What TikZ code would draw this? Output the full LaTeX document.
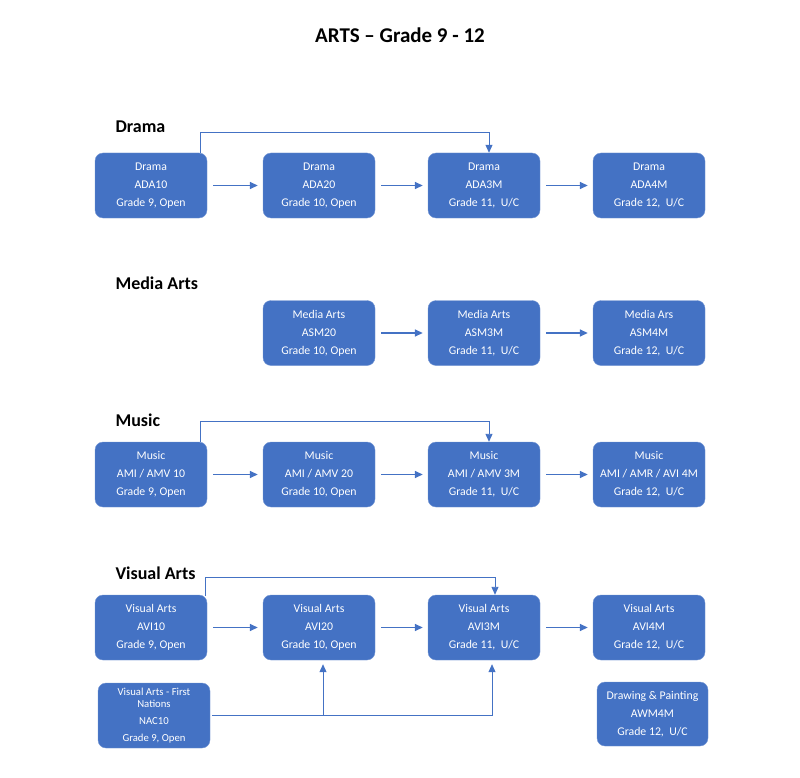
\documentclass[tikz,border=0pt]{standalone}
\usepackage{fontspec}
\setmainfont{Carlito}
\usetikzlibrary{arrows.meta}
\definecolor{boxblue}{HTML}{4472C4}
\definecolor{lineblue}{HTML}{4472C4}

\begin{document}
\begin{tikzpicture}[x=1pt,y=-1pt,
    course/.style={draw=boxblue!75!white, fill=boxblue, rounded corners=8pt,
        minimum width=112pt, minimum height=65pt, inner sep=0pt,
        text=white, align=center, font=\fontsize{11.8}{18}\selectfont},
    next/.style={draw=lineblue, line width=1.5pt, -{Triangle[length=8pt,width=7pt]}},
    link/.style={draw=lineblue, line width=0.9pt, -{Triangle[length=8pt,width=7pt]}},
    heading/.style={anchor=west, font=\fontsize{18}{21}\selectfont\bfseries}]
    % Page frame
    \useasboundingbox (0,0) rectangle (800,778);

    % Title
    \node[font=\fontsize{21}{25}\selectfont\bfseries] (title) at (400,35) {ARTS -- Grade 9 - 12};

    % Drama row
    \node[heading] (hdrama) at (112,127) {Drama};
    \node[course] (d1) at (151,185.5) {Drama\\ADA10\\Grade 9, Open};
    \node[course] (d2) at (319,185.5) {Drama\\ADA20\\Grade 10, Open};
    \node[course] (d3) at (484,185.5) {Drama\\ADA3M\\Grade 11,\ \ U/C};
    \node[course] (d4) at (649,185.5) {Drama\\ADA4M\\Grade 12,\ \ U/C};
    \draw[next] ([xshift=6pt]d1.east) -- ([xshift=-5pt]d2.west);
    \draw[next] ([xshift=6pt]d2.east) -- ([xshift=-5pt]d3.west);
    \draw[next] ([xshift=6pt]d3.east) -- ([xshift=-5pt]d4.west);
    \draw[link] ([xshift=-7pt]d1.north east) -- ++(0,-20) -| ([xshift=5pt]d3.north);

    % Media Arts row
    \node[heading] (hmedia) at (112,283) {Media Arts};
    \node[course] (a2) at (319,333) {Media Arts\\ASM20\\Grade 10, Open};
    \node[course] (a3) at (484,333) {Media Arts\\ASM3M\\Grade 11,\ \ U/C};
    \node[course] (a4) at (649,333) {Media Ars\\ASM4M\\Grade 12,\ \ U/C};
    \draw[next] ([xshift=6pt]a2.east) -- ([xshift=-5pt]a3.west);
    \draw[next] ([xshift=6pt]a3.east) -- ([xshift=-5pt]a4.west);

    % Music row
    \node[heading] (hmusic) at (112,420) {Music};
    \node[course] (m1) at (151,474.5) {Music\\AMI / AMV 10\\Grade 9, Open};
    \node[course] (m2) at (319,474.5) {Music\\AMI / AMV 20\\Grade 10, Open};
    \node[course] (m3) at (484,474.5) {Music\\AMI / AMV 3M\\Grade 11,\ \ U/C};
    \node[course] (m4) at (649,474.5) {Music\\AMI / AMR / AVI 4M\\Grade 12,\ \ U/C};
    \draw[next] ([xshift=6pt]m1.east) -- ([xshift=-5pt]m2.west);
    \draw[next] ([xshift=6pt]m2.east) -- ([xshift=-5pt]m3.west);
    \draw[next] ([xshift=6pt]m3.east) -- ([xshift=-5pt]m4.west);
    \draw[link] ([xshift=-7pt]m1.north east) -- ++(0,-20) -| ([xshift=5pt]m3.north);

    % Visual Arts row
    \node[heading] (hvisual) at (112,573) {Visual Arts};
    \node[course] (v1) at (151,627.5) {Visual Arts\\AVI10\\Grade 9, Open};
    \node[course] (v2) at (319,627.5) {Visual Arts\\AVI20\\Grade 10, Open};
    \node[course] (v3) at (484,627.5) {Visual Arts\\AVI3M\\Grade 11,\ \ U/C};
    \node[course] (v4) at (649,627.5) {Visual Arts\\AVI4M\\Grade 12,\ \ U/C};
    \draw[next] ([xshift=6pt]v1.east) -- ([xshift=-5pt]v2.west);
    \draw[next] ([xshift=6pt]v2.east) -- ([xshift=-5pt]v3.west);
    \draw[next] ([xshift=6pt]v3.east) -- ([xshift=-5pt]v4.west);
    \draw[link] ([xshift=-2pt,yshift=-1pt]v1.north east) -- ++(0,-18) -| ([xshift=11pt]v3.north);

    % Extra courses under the Visual Arts row
    \node[course, font=\fontsize{10.7}{17}\selectfont] (nac) at (154,715.5)
        {Visual Arts - First\\[-5pt]Nations\\NAC10\\Grade 9, Open};
    \node[course, minimum width=111pt, minimum height=64pt] (awm) at (652.5,714)
        {Drawing \& Painting\\AWM4M\\Grade 12,\ \ U/C};
    \coordinate (j) at ([xshift=4pt]v2.south |- nac.east);
    \draw[link, -, line width=0.8pt] ([xshift=2pt]nac.east) -- (j);
    \draw[link, line width=0.8pt, shorten >=4pt] (j) -| ([xshift=8pt]v3.south);
    \draw[link, shorten >=4pt] (j) -- ([xshift=4pt]v2.south);
\end{tikzpicture}
\end{document}
